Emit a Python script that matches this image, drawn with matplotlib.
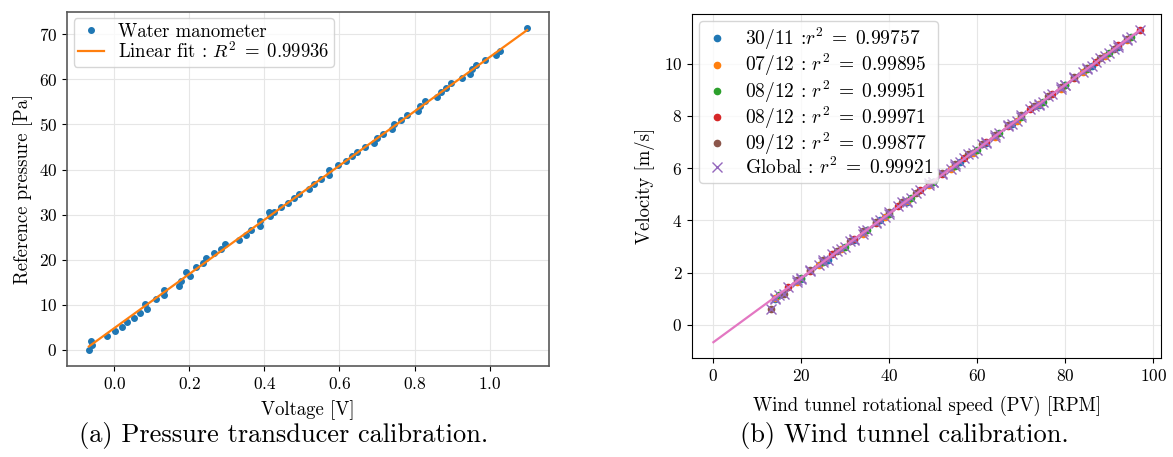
import matplotlib
matplotlib.use('Agg')
import matplotlib.pyplot as plt
import numpy as np

# pressure transducer calibration: voltage [V] vs water manometer [Pa]
voltage = [-0.0675, -0.063, -0.060, -0.020, 0.003, 0.020, 0.035, 0.0525, 0.069,
           0.081, 0.087, 0.112, 0.132, 0.133, 0.172, 0.179, 0.192, 0.201, 0.218,
           0.237, 0.245, 0.265, 0.285, 0.296, 0.333, 0.350, 0.363, 0.387, 0.389,
           0.413, 0.415, 0.425, 0.443, 0.463, 0.478, 0.493, 0.518, 0.533, 0.551,
           0.5725, 0.573, 0.597, 0.618, 0.633, 0.646, 0.669, 0.693, 0.701, 0.717,
           0.741, 0.746, 0.764, 0.780, 0.810, 0.814, 0.828, 0.861, 0.871, 0.885,
           0.896, 0.926, 0.948, 0.952, 0.965, 0.987, 1.017, 1.028, 1.100]
pressure = [0.0, 2.0, 1.0, 3.0, 4.1, 5.0, 6.1, 7.1, 8.1,
            10.1, 9.1, 11.2, 13.2, 12.2, 14.2, 15.2, 17.3, 16.3, 18.4,
            19.3, 20.4, 21.4, 22.4, 23.5, 24.4, 25.5, 26.5, 28.5, 27.5,
            30.5, 29.6, 30.5, 31.6, 32.6, 33.6, 34.6, 35.7, 36.7, 37.8,
            38.9, 39.8, 41.0, 41.8, 43.0, 43.8, 45.0, 45.9, 47.0, 48.0,
            49.0, 50.1, 51.1, 52.0, 53.1, 54.1, 55.2, 56.1, 57.2, 58.2,
            59.3, 60.2, 61.2, 62.2, 63.3, 64.3, 65.3, 66.3, 71.4]
p_slope, p_intercept = 60.1, 4.83
p_r2 = 0.99936

# wind tunnel calibration, one run per day
runs = ['30/11', '07/12', '08/12', '08/12', '09/12']
run_r2 = [0.99757, 0.99895, 0.99951, 0.99971, 0.99877]
run_colors = ['tab:blue', 'tab:orange', 'tab:green', 'tab:red', 'tab:brown']
rpm_3011 = [14, 20, 26, 32, 38, 44, 50, 56, 62, 68, 74, 80, 86, 92]
vel_3011 = [1.00, 1.76, 2.50, 3.25, 4.00, 4.72, 5.46, 6.22, 6.95, 7.70, 8.43,
            9.17, 9.90, 10.64]
rpm_0712 = [14, 19, 24, 29, 34, 39, 44, 49, 54, 59, 64, 69, 74, 79, 84, 89, 94]
vel_0712 = [1.02, 1.65, 2.28, 2.90, 3.50, 4.12, 4.75, 5.35, 5.97, 6.60, 7.20,
            7.82, 8.44, 9.05, 9.68, 10.28, 10.90]
rpm_0812a = [15, 20, 25, 30, 35, 40, 45, 50, 55, 60, 65, 70, 75, 80, 85, 90, 95]
vel_0812a = [1.15, 1.78, 2.40, 3.00, 3.62, 4.25, 4.85, 5.48, 6.10, 6.70, 7.33,
             7.95, 8.55, 9.18, 9.80, 10.40, 11.02]
rpm_0812b = [17, 22, 27, 32, 37, 42, 47, 52, 57, 62, 67, 72, 77, 82, 87, 92, 97]
vel_0812b = [1.45, 2.08, 2.70, 3.30, 3.92, 4.55, 5.15, 5.78, 6.40, 7.00, 7.62,
             8.25, 8.85, 9.47, 10.08, 10.70, 11.30]
rpm_0912 = [13, 16, 19, 22, 25, 28, 31, 34, 37, 40, 43, 46, 49, 52, 55, 58, 61,
            64, 67, 70, 73, 76, 79, 82, 85, 88, 91, 94]
vel_0912 = [0.60, 1.20, 1.72, 2.10, 2.48, 2.85, 3.20, 3.60, 3.95, 4.32, 4.70,
            5.05, 5.45, 5.80, 6.18, 6.55, 6.92, 7.28, 7.65, 8.02, 8.38, 8.75,
            9.12, 9.48, 9.85, 10.22, 10.58, 10.95]
v_slope, v_intercept = 0.1232, -0.66
global_r2 = 0.99921

plt.rcParams['font.family'] = 'cmr10'
plt.rcParams['mathtext.fontset'] = 'cm'
plt.rcParams['axes.formatter.use_mathtext'] = True
plt.rcParams['font.size'] = 13.5
plt.rcParams['xtick.labelsize'] = 12.5
plt.rcParams['ytick.labelsize'] = 12.5

fig = plt.figure(figsize=(11.73, 4.57), dpi=100)
ax1 = fig.add_axes([0.0571, 0.199, 0.411, 0.775])
ax2 = fig.add_axes([0.590, 0.217, 0.400, 0.752])

leg_kw = dict(loc='upper left', handlelength=1.4, borderaxespad=0.35,
              labelspacing=0.0, borderpad=0.25, handletextpad=0.7)

# (a) pressure transducer
ax1.plot(voltage, pressure, 'o', ms=4, color='tab:blue', label='Water manometer')
vx = np.array([min(voltage), max(voltage)])
ax1.plot(vx, p_slope * vx + p_intercept, color='tab:orange', lw=1.6,
         label=r'Linear fit : $R^2\;=\;%.5f$' % p_r2)
ax1.set_xlabel('Voltage [V]', labelpad=6)
ax1.set_ylabel('Reference pressure [Pa]')
ax1.grid(color='#e6e6e6', lw=0.8)
ax1.set_axisbelow(True)
for s in ax1.spines.values():
    s.set_color('0.35')
    s.set_linewidth(1.2)
ax1.legend(**leg_kw)

# (b) wind tunnel
all_rpm = []
all_vel = []
series = [(rpm_3011, vel_3011), (rpm_0712, vel_0712), (rpm_0812a, vel_0812a),
          (rpm_0812b, vel_0812b), (rpm_0912, vel_0912)]
for i, (r, v) in enumerate(series):
    sep = ' :' if i == 0 else ' : '
    ax2.plot(r, v, 'o', ms=4.5, color=run_colors[i],
             label=runs[i] + sep + r'$r^2\;=\;%.5f$' % run_r2[i])
    all_rpm += r
    all_vel += v
ax2.plot(all_rpm, all_vel, 'x', ms=7, mew=1.0, color='tab:purple',
         label=r'Global : $r^2\;=\;%.5f$' % global_r2)
rx = np.array([0, max(all_rpm)])
ax2.plot(rx, v_slope * rx + v_intercept, color='tab:pink', lw=1.6)
ax2.set_xlabel('Wind tunnel rotational speed (PV) [RPM]', labelpad=9)
ax2.set_ylabel('Velocity [m/s]', labelpad=6)
ax2.grid(color='#e6e6e6', lw=0.8)
ax2.set_axisbelow(True)
ax2.legend(fontsize=14, **leg_kw)

fig.text(0.2418, 0.046, '(a) Pressure transducer calibration.', fontsize=19,
         ha='center', va='center')
fig.text(0.771, 0.046, '(b) Wind tunnel calibration.', fontsize=19,
         ha='center', va='center')

fig.savefig('out.png', dpi=100)
